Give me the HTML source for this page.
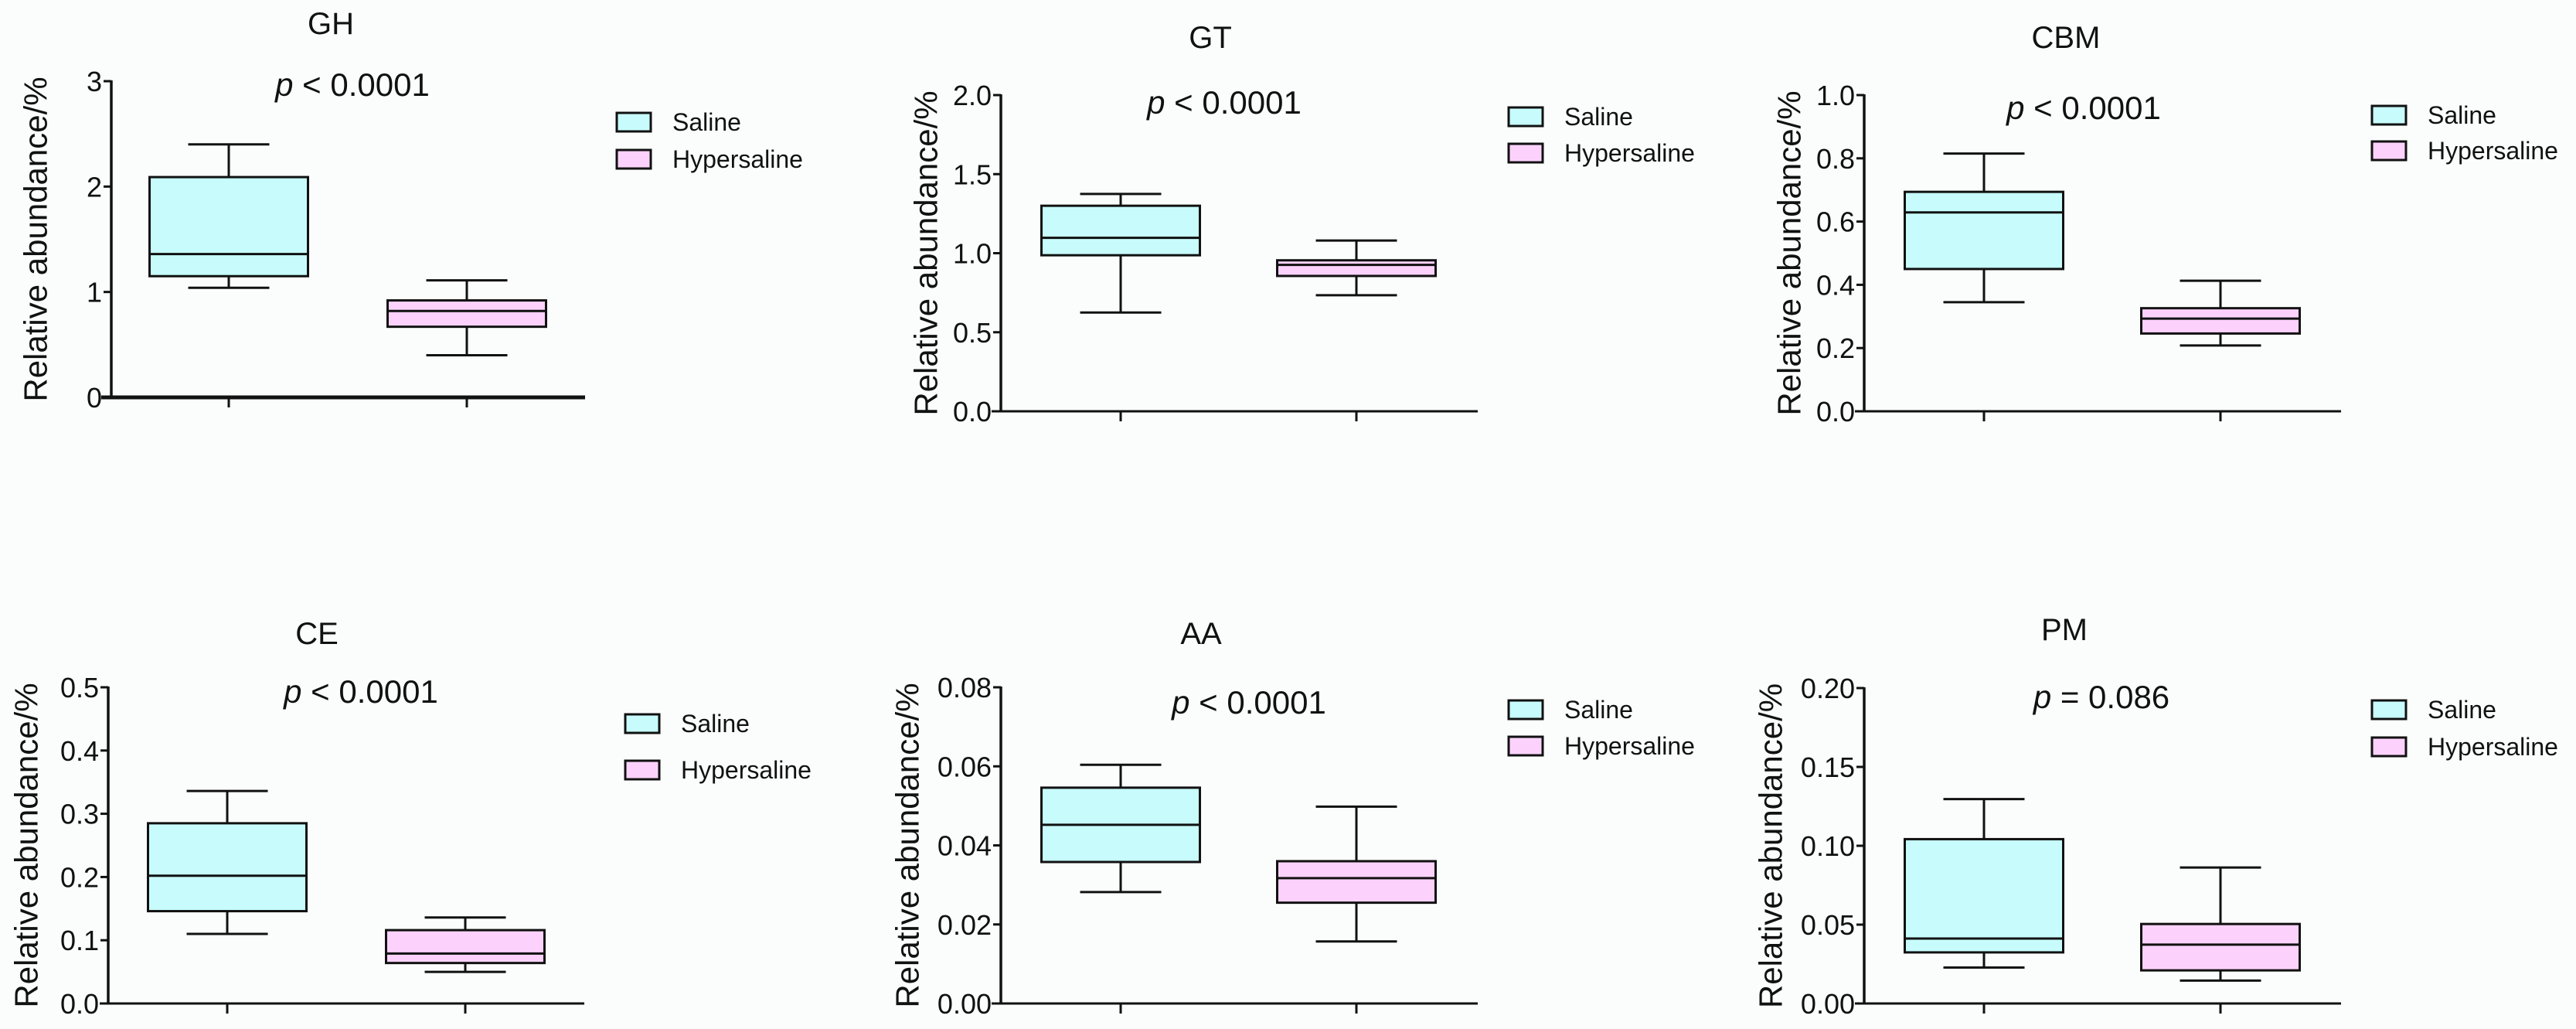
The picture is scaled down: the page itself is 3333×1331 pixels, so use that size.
<!DOCTYPE html>
<html><head><meta charset="utf-8">
<style>
html,body{margin:0;padding:0;background:#fbfdfd;overflow:hidden;}
svg{display:block;font-family:"Liberation Sans",Arial,sans-serif;}
</style></head>
<body>
<svg id="chart" width="3333" height="1331" viewBox="0 0 3333 1331" xmlns="http://www.w3.org/2000/svg">
<rect x="0" y="0" width="3333" height="1331" fill="#fbfdfd"/>
</svg>
<script>
// ---- data ----
const titles = ["GH", "GT", "CBM", "CE", "AA", "PM"];
const pLabels = ["< 0.0001", "< 0.0001", "< 0.0001", "< 0.0001", "< 0.0001", "= 0.086"];
const yMaxes = [3, 2, 1, 0.5, 0.08, 0.2];
const tickValues = [
  [0, 1, 2, 3],
  [0, 0.5, 1, 1.5, 2],
  [0, 0.2, 0.4, 0.6, 0.8, 1],
  [0, 0.1, 0.2, 0.3, 0.4, 0.5],
  [0, 0.02, 0.04, 0.06, 0.08],
  [0, 0.05, 0.1, 0.15, 0.2]
];
const tickLabels = [
  ["0", "1", "2", "3"],
  ["0.0", "0.5", "1.0", "1.5", "2.0"],
  ["0.0", "0.2", "0.4", "0.6", "0.8", "1.0"],
  ["0.0", "0.1", "0.2", "0.3", "0.4", "0.5"],
  ["0.00", "0.02", "0.04", "0.06", "0.08"],
  ["0.00", "0.05", "0.10", "0.15", "0.20"]
];
// [min, q1, median, q3, max]
const salineStats = [
  [1.04, 1.15, 1.36, 2.09, 2.40],
  [0.625, 0.987, 1.097, 1.30, 1.375],
  [0.345, 0.45, 0.629, 0.694, 0.815],
  [0.110, 0.146, 0.202, 0.285, 0.336],
  [0.0282, 0.0358, 0.0452, 0.0546, 0.0604],
  [0.0228, 0.0324, 0.0412, 0.1042, 0.1296]
];
const hyperStats = [
  [0.40, 0.67, 0.82, 0.92, 1.11],
  [0.734, 0.856, 0.926, 0.955, 1.08],
  [0.208, 0.246, 0.293, 0.326, 0.413],
  [0.050, 0.064, 0.079, 0.116, 0.136],
  [0.0157, 0.0255, 0.0317, 0.036, 0.0498],
  [0.0145, 0.021, 0.0373, 0.0504, 0.0862]
];
const groupNames = ["Saline", "Hypersaline"];

// ---- layout (pixels, not data) ----
const layout = [
  {ax:144, top:105, bot:514, xs:131, xe:757, t1:296, t2:604, ylx:32, ty:30, tx:428, py:109, px:456, lx:798, ly1:146, ly2:194, axw:5},
  {ax:1295, top:123, bot:532, xs:1283, xe:1912, t1:1450, t2:1755, ylx:1184, ty:48, tx:1566, py:132, px:1584, lx:1952, ly1:139, ly2:186, axw:3},
  {ax:2412, top:123, bot:532, xs:2400, xe:3029, t1:2567, t2:2873, ylx:2301, ty:48, tx:2673, py:139, px:2696, lx:3069, ly1:137, ly2:183, axw:3},
  {ax:140, top:889, bot:1298, xs:129, xe:756, t1:294, t2:602, ylx:20, ty:819, tx:410, py:894, px:467, lx:809, ly1:924, ly2:984, axw:3},
  {ax:1295, top:889, bot:1298, xs:1283, xe:1912, t1:1450, t2:1755, ylx:1160, ty:819, tx:1554, py:908, px:1616, lx:1952, ly1:906, ly2:953, axw:3},
  {ax:2412, top:890, bot:1298, xs:2400, xe:3029, t1:2567, t2:2873, ylx:2277, ty:814, tx:2671, py:901, px:2719, lx:3069, ly1:906, ly2:954, axw:3}
];
const fills = ["#c8fcfc", "#fcd2fc"];
const NS = "http://www.w3.org/2000/svg";
const svg = document.getElementById("chart");

function mk(tag, attrs, parent) {
  const e = document.createElementNS(NS, tag);
  for (const k in attrs) e.setAttribute(k, attrs[k]);
  (parent || svg).appendChild(e);
  return e;
}
function txt(str, x, y, size, anchor, parent) {
  const t = mk("text", {x: x, y: y, "font-size": size, "text-anchor": anchor, fill: "#111"}, parent);
  t.textContent = str;
  return t;
}

for (let i = 0; i < titles.length; i++) {
  const L = layout[i];
  const g = mk("g", {});
  
  
  const yScale = v => L.bot - (v / yMaxes[i]) * (L.bot - L.top);

  const tt = txt(titles[i], L.tx, L.ty + 14, 40, "middle", g);
  
  

  const pt = mk("text", {x: L.px, y: L.py + 15, "font-size": 42, "text-anchor": "middle", fill: "#111"}, g);
  
  
  const ps = mk("tspan", {"font-style": "italic"}, pt); ps.textContent = "p";
  const pr = mk("tspan", {}, pt); pr.textContent = " " + pLabels[i];

  const yl = mk("text", {x: 0, y: 0, "font-size": 42, "text-anchor": "middle", "dominant-baseline": "central", fill: "#111",
    transform: "translate(" + (L.ylx + 14) + "," + ((L.top + L.bot) / 2) + ") rotate(-90)"}, g);
  yl.textContent = "Relative abundance/%";
  
  

  const ya = mk("line", {x1: L.ax, y1: L.top - 1, x2: L.ax, y2: L.bot, stroke: "#111", "stroke-width": 3.5}, g);
  
  
  const xa = mk("line", {x1: L.xs, y1: L.bot, x2: L.xe, y2: L.bot, stroke: "#111", "stroke-width": L.axw}, g);
  
  
  [L.t1, L.t2].forEach(tx => {
    const tk = mk("line", {x1: tx, y1: L.bot, x2: tx, y2: L.bot + 13, stroke: "#111", "stroke-width": 3}, g);
    
    
  });

  tickValues[i].forEach((v, k) => {
    const y = yScale(v);
    const tk = mk("line", {x1: L.ax - 10, y1: y, x2: L.ax, y2: y, stroke: "#111", "stroke-width": 3}, g);
    
    
    const lb = txt(tickLabels[i][k], L.ax - 12, y + 13, 36, "end", g);
    
    
  });

  const statsList = [salineStats[i], hyperStats[i]];
  const centers = [L.t1, L.t2];
  statsList.forEach((s, gi) => {
    const cx = centers[gi];
    const bw = 205, cw = 105;
    const bg = mk("g", {}, g);
    
    
    mk("line", {x1: cx, y1: yScale(s[0]), x2: cx, y2: yScale(s[1]), stroke: "#111", "stroke-width": 3}, bg);
    mk("line", {x1: cx, y1: yScale(s[3]), x2: cx, y2: yScale(s[4]), stroke: "#111", "stroke-width": 3}, bg);
    mk("line", {x1: cx - cw / 2, y1: yScale(s[0]), x2: cx + cw / 2, y2: yScale(s[0]), stroke: "#111", "stroke-width": 3}, bg);
    mk("line", {x1: cx - cw / 2, y1: yScale(s[4]), x2: cx + cw / 2, y2: yScale(s[4]), stroke: "#111", "stroke-width": 3}, bg);
    mk("rect", {x: cx - bw / 2, y: yScale(s[3]), width: bw, height: yScale(s[1]) - yScale(s[3]),
      fill: fills[gi], stroke: "#111", "stroke-width": 3}, bg);
    mk("line", {x1: cx - bw / 2, y1: yScale(s[2]), x2: cx + bw / 2, y2: yScale(s[2]), stroke: "#111", "stroke-width": 3}, bg);
  });

  [L.ly1, L.ly2].forEach((ly, gi) => {
    const lg = mk("g", {}, g);
    
    
    mk("rect", {x: L.lx, y: ly, width: 44, height: 24, fill: fills[gi], stroke: "#111", "stroke-width": 3}, lg);
    txt(groupNames[gi], L.lx + 72, ly + 23, 32, "start", lg);
  });
}
</script>
</body></html>
